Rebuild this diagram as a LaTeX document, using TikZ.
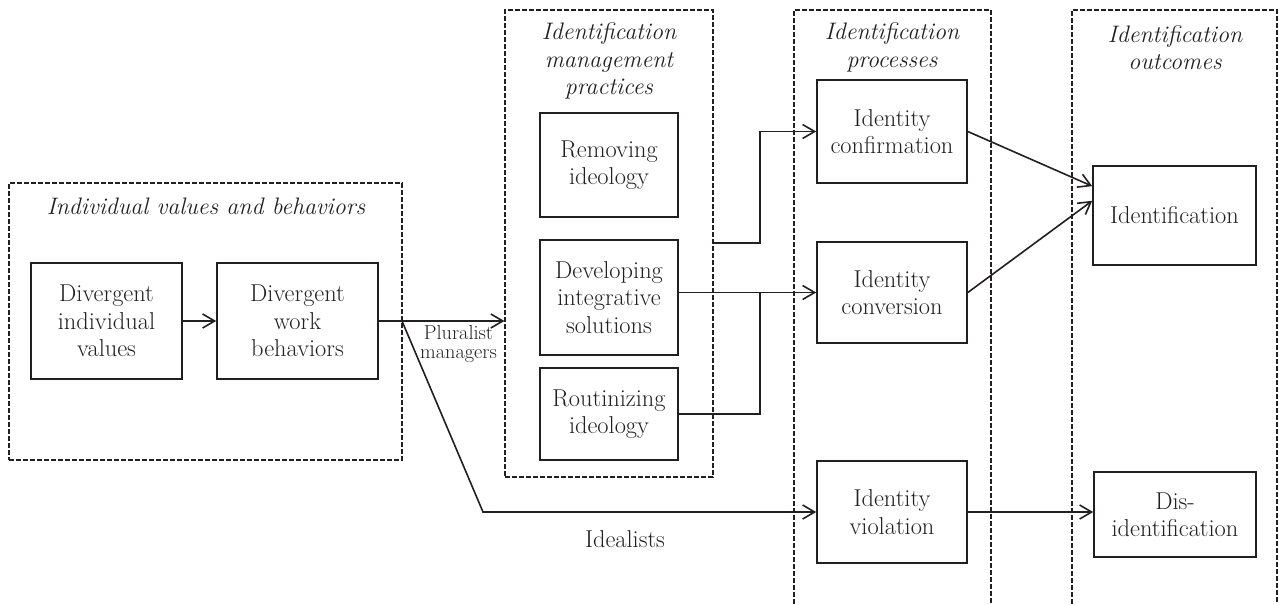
\documentclass[tikz,border=0pt]{standalone}
\usetikzlibrary{arrows.meta}
\definecolor{ink}{RGB}{35,31,32}
\begin{document}
\begin{tikzpicture}[x=0.75pt,y=-0.75pt,
  box/.style={draw=ink, line width=1.2pt, inner sep=0pt, align=center, text=ink,
    font=\fontsize{18.3}{20.6}\selectfont},
  grp/.style={draw=ink, line width=0.9pt, dash pattern=on 3.75pt off 1.5pt, inner sep=0pt},
  ttl/.style={font=\fontsize{17.9}{20.6}\selectfont\itshape, align=center, text=ink, inner sep=0pt},
  lbl/.style={text=ink, align=center, inner sep=0pt},
  conn/.style={draw=ink, line width=1.2pt},
  arr/.style={conn, -{Straight Barb[length=9pt,width=10.5pt,line width=1.2pt]}}]
\useasboundingbox (0,0) rectangle (1279,604);

% group frames
\node[grp, minimum width=294.75pt, minimum height=207.75pt] (grp1) at (205.5,321.5) {};
\node[grp, minimum width=156pt, minimum height=350.25pt] (mgmt) at (609,243.5) {};
\draw[grp] (794,604) -- (794,10) -- (991,10) -- (991,604);
\draw[grp] (1072,604) -- (1072,10) -- (1277,10) -- (1277,604);

% titles
\node[ttl] (t1) at (206,206) {Individual values and behaviors};
\node[ttl] (t2) at (609,61) {Identification\\management\\practices};
\node[ttl] (t3) at (892,47.5) {Identification\\processes};
\node[ttl] (t4) at (1175,47.5) {Identification\\outcomes};

% boxes
\node[box, minimum width=113.25pt, minimum height=87pt] (b1) at (106.5,321) {Divergent\\individual\\values};
\node[box, minimum width=120.75pt, minimum height=87pt] (b2) at (297.5,321) {Divergent\\work\\behaviors};

\node[box, minimum width=103.5pt, minimum height=78pt] (rem) at (609,165) {Removing\\ideology};
\node[box, minimum width=103.5pt, minimum height=86.25pt] (dev) at (609,297.5) {Developing\\integrative\\solutions};
\node[box, minimum width=103.5pt, minimum height=69pt] (rout) at (609,414) {Routinizing\\ideology};

\node[box, minimum width=112.5pt, minimum height=77.25pt] (conf) at (892,131.5) {Identity\\confirmation};
\node[box, minimum width=112.5pt, minimum height=75.75pt] (conv) at (892,292.5) {Identity\\conversion};
\node[box, minimum width=112.5pt, minimum height=76.5pt] (viol) at (892,512) {Identity\\violation};

\node[box, minimum width=122.25pt, minimum height=74.25pt] (ident) at (1174.5,215.5) {Identification};
\node[box, minimum width=121.5pt, minimum height=63.75pt] (dis) at (1175,514.5) {Dis-\\identification};

% labels
\node[lbl, font=\fontsize{15.2}{14}\selectfont] (plur) at (458.5,344) {Pluralist\\managers};
\node[lbl, font=\fontsize{18.3}{20.6}\selectfont] (ideal) at (625,539) {Idealists};

% coordinates
\coordinate (split) at (402,321);
\coordinate (bend) at (483,512);
\coordinate (j1) at (760,243);
\coordinate (j2) at (760,292.5);

% connectors
\draw[arr] (b1) -- (b2);
\draw[arr] (b2.east) -- (b2.east -| mgmt.west);
\draw[arr] (split) -- (bend) -- (viol.west);
\draw[arr] (mgmt.east |- j1) -- (j1) |- (conf.west);
\draw[arr] (conv.west -| dev.east) -- (conv.west);
\draw[conn] (rout.east) -| (j2);
\draw[arr] (conf.east) -- ([yshift=22pt]ident.west);
\draw[arr] (conv.east) -- ([yshift=11pt]ident.west);
\draw[arr] (viol.east) -- (viol.east -| dis.west);
\end{tikzpicture}
\end{document}
